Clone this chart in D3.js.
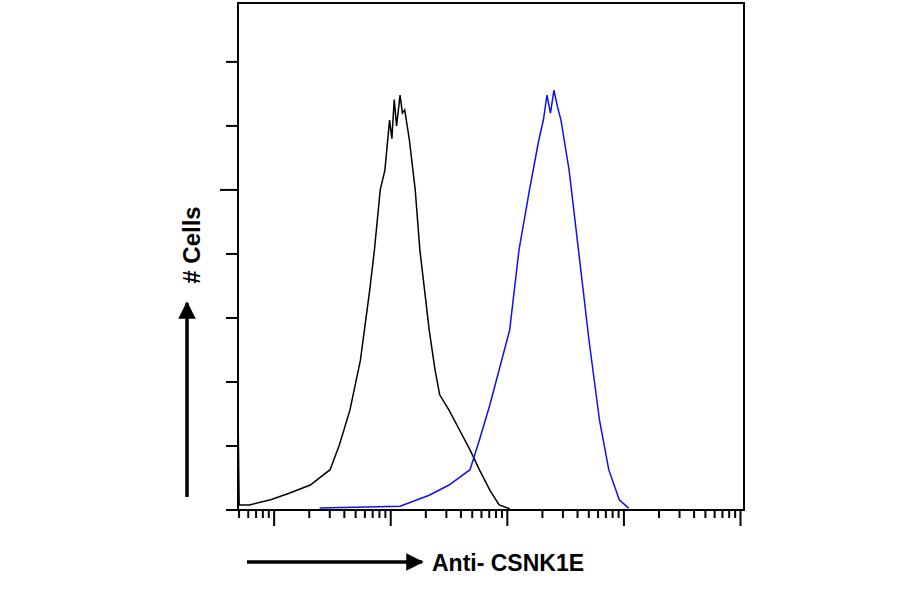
<!DOCTYPE html>
<html><head><meta charset="utf-8">
<script src="https://cdn.jsdelivr.net/npm/d3@7"></script>
<style>body{margin:0;background:#fff}</style>
</head><body><svg id="chart" width="900" height="594"></svg>
<script>
// histogram samples: log10 fluorescence, cell counts
const blackLog = [-0.31,-0.30,-0.21,-0.03,0.14,0.31,0.48,0.56,0.65,0.74,0.82,0.86,0.91,0.95,0.99,1.01,1.03,1.05,1.08,1.10,1.12,1.16,1.21,1.25,1.29,1.33,1.38,1.42,1.50,1.59,1.68,1.76,1.85,1.93,2.02];
const blackCount = [156,8,8,16,27,39,63,102,156,234,344,406,500,531,609,580,641,600,648,620,625,578,500,406,344,281,219,180,156,125,94,63,31,8,2];
const blueLog = [0.39,1.08,1.33,1.50,1.68,1.76,1.85,1.93,2.02,2.10,2.19,2.27,2.31,2.34,2.37,2.40,2.43,2.46,2.53,2.62,2.70,2.79,2.87,2.96,3.04];
const blueCount = [3,6,23,39,63,109,164,219,281,406,500,578,610,648,620,656,630,609,531,391,266,141,63,16,3];
const yTicks = [0,100,200,300,400,500,600,700];

const svg = d3.select("#chart");
const pl = 238, pr = 744, pt = 3, pb = 510;

const x = d3.scaleLog().domain([Math.pow(10, -0.31), Math.pow(10, 4.03)]).range([pl, pr]);
const y = d3.scaleLinear().domain([0, 792]).range([pb, pt]);

// frame
svg.append("rect").attr("x", pl).attr("y", pt).attr("width", pr - pl).attr("height", pb - pt)
  .attr("fill", "none").attr("stroke", "#000").attr("stroke-width", 2);

// y ticks
svg.selectAll(".yt").data(yTicks).enter().append("line")
  .attr("x1", (d) => (d === 500 ? 220 : 226)).attr("x2", pl)
  .attr("y1", (d) => y(d)).attr("y2", (d) => y(d))
  .attr("stroke", "#000").attr("stroke-width", 2);

// x ticks (log, minor 2..9)
const xTicks = [];
for (let e = -1; e <= 4; e++) for (let m = 1; m <= 9; m++) {
  const v = m * Math.pow(10, e);
  if (v >= x.domain()[0] && v <= x.domain()[1] * 1.001) xTicks.push({ v, major: m === 1 });
}
svg.selectAll(".xt").data(xTicks).enter().append("line")
  .attr("x1", (d) => x(d.v)).attr("x2", (d) => x(d.v))
  .attr("y1", pb).attr("y2", (d) => (d.major ? 526 : 518))
  .attr("stroke", "#000").attr("stroke-width", 2);

const line = d3.line().x((d) => x(Math.pow(10, d[0]))).y((d) => y(d[1]));
svg.append("path").datum(blackLog.map((v, i) => [v, blackCount[i]]))
  .attr("fill", "none").attr("stroke", "#000").attr("stroke-width", 1.5).attr("d", line);
svg.append("path").datum(blueLog.map((v, i) => [v, blueCount[i]]))
  .attr("fill", "none").attr("stroke", "#1010ee").attr("stroke-width", 1.5).attr("d", line);

// arrows and labels
svg.append("defs").append("marker").attr("id", "ah").attr("viewBox", "0 0 10 10")
  .attr("refX", 9).attr("refY", 5).attr("markerWidth", 5).attr("markerHeight", 5).attr("orient", "auto")
  .append("path").attr("d", "M0,0L10,5L0,10z").attr("fill", "#000");
svg.append("line").attr("x1", 187).attr("y1", 497).attr("x2", 187).attr("y2", 303)
  .attr("stroke", "#000").attr("stroke-width", 3.5).attr("marker-end", "url(#ah)");
svg.append("line").attr("x1", 247).attr("y1", 562).attr("x2", 422).attr("y2", 562)
  .attr("stroke", "#000").attr("stroke-width", 3.5).attr("marker-end", "url(#ah)");
svg.append("text").attr("transform", "translate(200,245) rotate(-90)").attr("text-anchor", "middle")
  .attr("font-family", "Liberation Sans, Arial").attr("font-weight", "bold").attr("font-size", 24).text("# Cells");
svg.append("text").attr("x", 432).attr("y", 571)
  .attr("font-family", "Liberation Sans, Arial").attr("font-weight", "bold").attr("font-size", 23).text("Anti- CSNK1E");
</script></body></html>
